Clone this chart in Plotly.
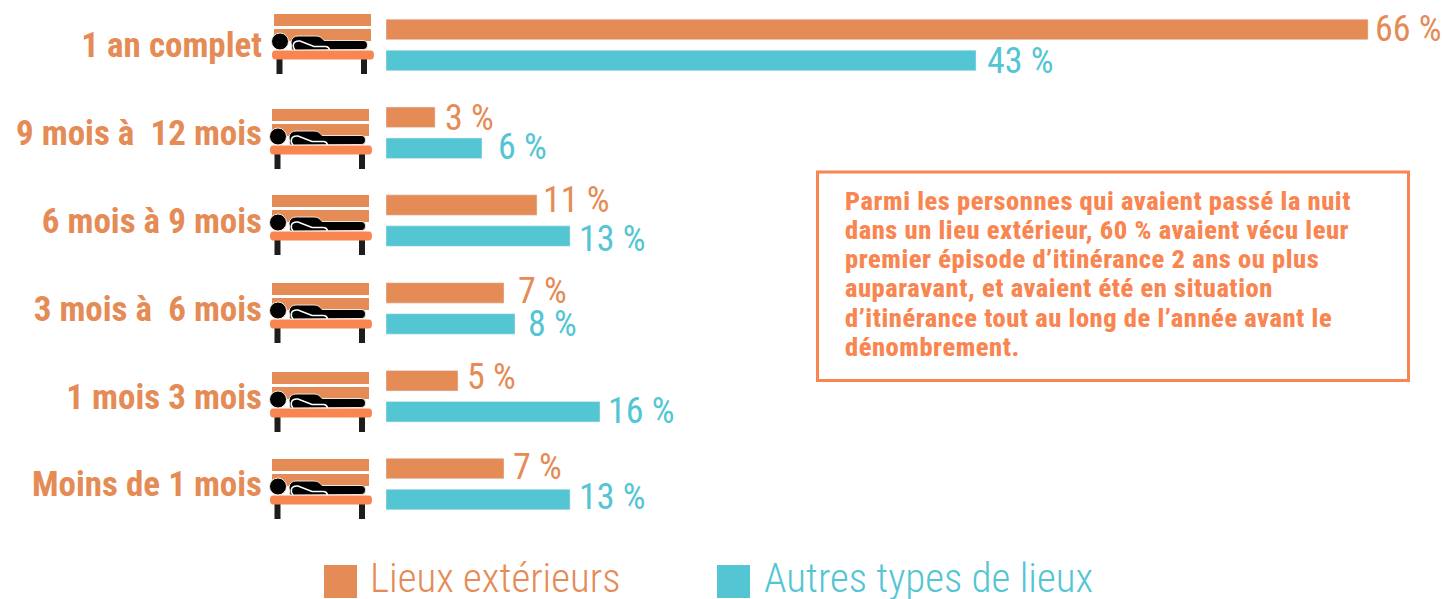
import plotly.graph_objects as go

W, H = 1442, 599
categories = ["1 an complet", "9 mois à  12 mois", "6 mois à 9 mois", "3 mois à  6 mois", "1 mois 3 mois", "Moins de 1 mois"]
# lengths of the bars as drawn in the picture (they do not follow the printed labels exactly)
drawn_ext = [66.0, 3.3, 10.15, 7.93, 4.84, 7.93]
drawn_oth = [39.65, 6.45, 12.37, 8.67, 14.38, 12.37]
labels_ext = ["66 %", "3 %", "11 %", "7 %", "5 %", "7 %"]
labels_oth = ["43 %", "6 %", "13 %", "8 %", "16 %", "13 %"]
gap_ext = [5, 8, 4, 12, 7, 7]
gap_oth = [9, 14, 7, 11, 6, 7]
lift_ext = [16, 15, 21, 17, 19, 17]
lift_oth = [-16, -14, -18, -16, -15, -13]
note_lines = ["Parmi les personnes qui avaient passé la nuit",
              "dans un lieu extérieur, 60 % avaient vécu leur",
              "premier épisode d’itinérance 2 ans ou plus",
              "auparavant, et avaient été en situation",
              "d’itinérance tout au long de l’année avant le",
              "dénombrement."]
legend_names = ["Lieux extérieurs", "Autres types de lieux"]

ORANGE, CYAN, SEAT, LEG = "#E58B56", "#53C5D3", "#F98550", "#1D1D1B"
FONT = "Roboto Condensed"
PX = 14.88

def px(x): return x / W
def py(y): return 1 - y / H
def P(x, y): return f"{px(x):.5f},{py(y):.5f}"

fig = go.Figure()
fig.add_bar(y=categories, x=drawn_ext, orientation="h", name=legend_names[0], marker_color=ORANGE)
fig.add_bar(y=categories, x=drawn_oth, orientation="h", name=legend_names[1], marker_color=CYAN)

shapes, ann = [], []
def rect(x0, y0, x1, y1, color):
    shapes.append(dict(type="rect", xref="paper", yref="paper", x0=px(x0), x1=px(x1), y0=py(y0), y1=py(y1),
                       fillcolor=color, line=dict(width=0)))
def pth(d, **kw):
    shapes.append(dict(type="path", xref="paper", yref="paper", path=d, **kw))

bed_origin = [(274, 14), (272, 109), (272, 195), (272, 283), (272, 372), (272, 459)]

for ox, oy in bed_origin:
    X = lambda v: ox + v
    Y = lambda v: oy + v
    rect(X(0), Y(0), X(97), Y(12), ORANGE)
    rect(X(0), Y(15), X(97), Y(27), ORANGE)
    rect(X(2.5), Y(45), X(8.5), Y(60), LEG)
    rect(X(87), Y(45), X(93), Y(60), LEG)
    # seat with rounded ends
    pth(f"M {P(X(1),Y(36.5))} L {P(X(97),Y(36.5))} Q {P(X(100),Y(36.5))} {P(X(100),Y(41))} "
        f"Q {P(X(100),Y(45.5))} {P(X(97),Y(45.5))} L {P(X(1),Y(45.5))} Q {P(X(-2),Y(45.5))} {P(X(-2),Y(41))} "
        f"Q {P(X(-2),Y(36.5))} {P(X(1),Y(36.5))} Z", fillcolor=SEAT, line=dict(width=0))
    # head
    shapes.append(dict(type="circle", xref="paper", yref="paper", x0=px(X(-2.5)), x1=px(X(14.5)),
                       y0=py(Y(19)), y1=py(Y(36)), fillcolor="#000000", line=dict(color="#F7EDE6", width=1)))
    # body
    pth(f"M {P(X(18),Y(36))} L {P(X(17),Y(28))} Q {P(X(18),Y(22))} {P(X(24),Y(22))} L {P(X(42),Y(22))} "
        f"Q {P(X(47),Y(22))} {P(X(50),Y(26.5))} L {P(X(89),Y(26.5))} Q {P(X(93.5),Y(26.5))} {P(X(93.5),Y(31))} "
        f"Q {P(X(93.5),Y(35.5))} {P(X(89),Y(35.5))} Z",
        fillcolor="#000000", line=dict(color="#F3E3D8", width=1))
    # arm outline
    pth(f"M {P(X(21),Y(36))} Q {P(X(18.5),Y(33))} {P(X(19.5),Y(30))} Q {P(X(20.5),Y(26.5))} {P(X(26),Y(27))} "
        f"L {P(X(40),Y(32.5))} L {P(X(52),Y(32.5))} Q {P(X(55),Y(33))} {P(X(55.5),Y(36))}",
        line=dict(color="#FFFFFF", width=1.5))

# note box
shapes.append(dict(type="rect", xref="paper", yref="paper", x0=px(817.5), x1=px(1408.5), y0=py(172), y1=py(380.5),
                   line=dict(color=SEAT, width=3), fillcolor="rgba(0,0,0,0)"))
for i, line in enumerate(note_lines):
    ann.append(dict(xref="paper", yref="paper", x=px(843), y=py(200 + 29.3 * i), xanchor="left", yanchor="middle",
                    text=f"<span style='letter-spacing:0.55px'>{line}</span>", showarrow=False,
                    font=dict(family=FONT, size=26.5, color=SEAT, weight=800)))

# value labels
for i, c in enumerate(categories):
    ann.append(dict(x=drawn_ext[i], y=c, xref="x", yref="y", xanchor="left", yanchor="middle", xshift=gap_ext[i], yshift=lift_ext[i],
                    text=labels_ext[i], showarrow=False, font=dict(family=FONT, size=36, color=ORANGE)))
    ann.append(dict(x=drawn_oth[i], y=c, xref="x", yref="y", xanchor="left", yanchor="middle", xshift=gap_oth[i], yshift=lift_oth[i],
                    text=labels_oth[i], showarrow=False, font=dict(family=FONT, size=36, color=CYAN)))

# legend
for name, color, x0, tx in zip(legend_names, [ORANGE, CYAN], [324, 717], [368, 762]):
    rect(x0, 565, x0 + 33, 598, color)
    ann.append(dict(xref="paper", yref="paper", x=px(tx), y=py(578), xanchor="left", yanchor="middle", text=name,
                    showarrow=False, font=dict(family=FONT, size=41, color=color, weight=300)))

fig.update_layout(
    width=W, height=H, margin=dict(l=0, r=0, t=0, b=0), paper_bgcolor="white", plot_bgcolor="white",
    barmode="group", bargap=0.294, bargroupgap=0.34, showlegend=False, shapes=shapes, annotations=ann,
    xaxis=dict(domain=[386 / W, 1], range=[0, (W - 386) / PX], visible=False),
    yaxis=dict(domain=[1 - 528 / H, 1 - 1 / H], autorange="reversed", showline=False, showgrid=False, zeroline=False,
               ticks="outside", ticklen=116, tickcolor="rgba(0,0,0,0)", automargin=False,
               tickfont=dict(family=FONT, size=35, color=ORANGE, weight="bold")),
)
fig.write_html("out.html", config=dict(displayModeBar=False),
               post_script="document.body.style.margin='0';document.body.style.overflow='hidden';")
